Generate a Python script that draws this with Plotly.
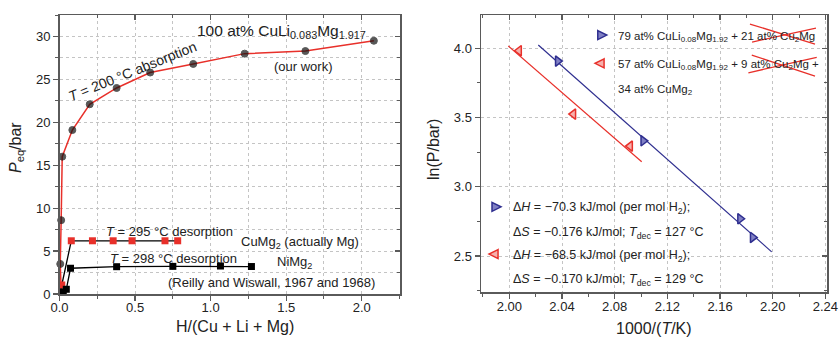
import plotly.graph_objects as go

# ---------------- data: left panel ----------------
H_abs = [0.012, 0.005, 0.011, 0.018, 0.085, 0.20, 0.378, 0.60, 0.885, 1.225, 1.627, 2.08]
P_abs = [0.0, 3.5, 8.6, 16.0, 19.1, 22.1, 24.0, 25.8, 26.8, 28.0, 28.3, 29.5]
abs_marker = [0, 7, 7, 7, 7, 7, 7, 7, 7, 7, 7, 7]

H_cumg2 = [0.015, 0.078, 0.218, 0.355, 0.48, 0.698, 0.782]
P_cumg2 = [1.05, 6.2, 6.2, 6.2, 6.2, 6.2, 6.2]

H_nimg2 = [0.025, 0.045, 0.073, 0.378, 0.75, 1.065, 1.27]
P_nimg2 = [0.25, 0.55, 3.0, 3.18, 3.22, 3.26, 3.2]

# ---------------- data: right panel ----------------
invT_79 = [2.0368, 2.1017, 2.1752, 2.1848]
lnP_79 = [3.908, 3.332, 2.769, 2.634]
fit79_x = [2.022, 2.1992]
fit79_y = [4.024, 2.530]

invT_57 = [2.0074, 2.0486, 2.0917]
lnP_57 = [3.983, 3.525, 3.294]
fit57_x = [1.9992, 2.1005]
fit57_y = [4.017, 3.181]

left_xticks = [0.0, 0.5, 1.0, 1.5, 2.0]
left_yticks = [0, 5, 10, 15, 20, 25, 30]
right_xticks = [2.00, 2.04, 2.08, 2.12, 2.16, 2.20, 2.24]
right_yticks = [2.5, 3.0, 3.5, 4.0]

RED = "#e8302a"
BLUE = "#2e2e8f"
FONT = "Liberation Sans, Arial, Helvetica, sans-serif"
AX = "#5a5a5a"
GRID = "#c4c4c4"

fig = go.Figure()

# left panel traces
fig.add_trace(go.Scatter(x=H_abs, y=P_abs, mode="lines",
                         line=dict(color=RED, width=1.5),
                         cliponaxis=False, showlegend=False, xaxis="x", yaxis="y"))
fig.add_trace(go.Scatter(x=H_abs, y=P_abs, mode="markers",
                         marker=dict(color="#111111", size=abs_marker, symbol="circle",
                                     line=dict(color="#111111", width=1)),
                         cliponaxis=False, showlegend=False, xaxis="x", yaxis="y"))
fig.add_trace(go.Scatter(x=H_cumg2, y=P_cumg2, mode="lines+markers",
                         line=dict(color="black", width=1.3),
                         marker=dict(color=RED, size=7, symbol="square", line=dict(width=0)),
                         cliponaxis=False, showlegend=False, xaxis="x", yaxis="y"))
fig.add_trace(go.Scatter(x=H_nimg2, y=P_nimg2, mode="lines+markers",
                         line=dict(color="black", width=1.3),
                         marker=dict(color="black", size=7, symbol="square", line=dict(width=0)),
                         cliponaxis=False, showlegend=False, xaxis="x", yaxis="y"))

# right panel traces
fig.add_trace(go.Scatter(x=fit79_x, y=fit79_y, mode="lines",
                         line=dict(color=BLUE, width=1.2),
                         showlegend=False, xaxis="x2", yaxis="y2"))
fig.add_trace(go.Scatter(x=fit57_x, y=fit57_y, mode="lines",
                         line=dict(color=RED, width=1.2),
                         showlegend=False, xaxis="x2", yaxis="y2"))
fig.add_trace(go.Scatter(x=invT_79, y=lnP_79, mode="markers",
                         marker=dict(symbol="triangle-right", size=9, color="#8080c4",
                                     line=dict(color=BLUE, width=1.5)),
                         showlegend=False, xaxis="x2", yaxis="y2"))
fig.add_trace(go.Scatter(x=invT_57, y=lnP_57, mode="markers",
                         marker=dict(symbol="triangle-left", size=9, color="#f6b0ac",
                                     line=dict(color=RED, width=1.5)),
                         showlegend=False, xaxis="x2", yaxis="y2"))

# dummy traces to activate mirror (inward-tick) axes
fig.add_trace(go.Scatter(x=[None], y=[None], xaxis="x3", yaxis="y3", showlegend=False, hoverinfo="skip"))
fig.add_trace(go.Scatter(x=[None], y=[None], xaxis="x4", yaxis="y4", showlegend=False, hoverinfo="skip"))

L_DOM_X = [59.5 / 839, 400 / 839]
L_DOM_Y = [(337 - 294) / 337, (337 - 15) / 337]
R_DOM_X = [481 / 839, 827 / 839]
R_DOM_Y = [(337 - 292) / 337, (337 - 15) / 337]
L_XR = [0, 2.253]
L_YR = [0, 32.5]
R_XR = [1.9785, 2.2412]
R_YR = [2.24, 4.241]

tickfont = dict(family=FONT, size=13, color="#222")


def main_axis(domain, rng, tickvals, minor_dtick, minor_grid, grid, fmt, anchor, standoff):
    return dict(domain=domain, range=rng, anchor=anchor, tickmode="array", tickvals=tickvals,
                ticktext=[fmt.format(v) for v in tickvals], automargin=False,
                ticks="outside", ticklen=5, tickwidth=1.2, tickcolor=AX,
                ticklabelstandoff=standoff,
                showline=True, linecolor=AX, linewidth=1.5, zeroline=False,
                showgrid=grid, gridcolor=GRID, griddash="dot", gridwidth=1,
                tickfont=tickfont,
                minor=dict(dtick=minor_dtick, tick0=0 if minor_dtick != 0.02 else 2.0,
                           ticks="outside", ticklen=3, tickwidth=1, tickcolor=AX,
                           showgrid=minor_grid, gridcolor=GRID, griddash="dot", gridwidth=1))


def mirror_axis(rng, overlay, side, anchor, tickvals, minor_dtick, tick0):
    return dict(range=rng, overlaying=overlay, side=side, anchor=anchor, automargin=False,
                tickmode="array", tickvals=tickvals, showticklabels=False,
                ticks="inside", ticklen=5, tickwidth=1.2, tickcolor=AX,
                showline=True, linecolor=AX, linewidth=1.5, zeroline=False, showgrid=False,
                minor=dict(dtick=minor_dtick, tick0=tick0, ticks="inside", ticklen=3,
                           tickwidth=1, tickcolor=AX, showgrid=False))


fig.update_layout(
    template="none",
    width=839, height=337, margin=dict(l=0, r=0, t=0, b=0, autoexpand=False),
    paper_bgcolor="white", plot_bgcolor="white",
    font=dict(family=FONT, size=13, color="#222"),
    xaxis=main_axis(L_DOM_X, L_XR, left_xticks, 0.25, True, True, "{:.1f}", "y", -4),
    yaxis=main_axis(L_DOM_Y, L_YR, left_yticks, 2.5, True, True, "{:.0f}", "x", 0),
    xaxis2=main_axis(R_DOM_X, R_XR, right_xticks, 0.02, False, True, "{:.2f}", "y2", -3),
    yaxis2=main_axis(R_DOM_Y, R_YR, right_yticks, 0.25, False, True, "{:.1f}", "x2", 0),
    xaxis3=mirror_axis(L_XR, "x", "top", "y", left_xticks, 0.25, 0),
    yaxis3=mirror_axis(L_YR, "y", "right", "x", left_yticks, 2.5, 0),
    xaxis4=mirror_axis(R_XR, "x2", "top", "y2", right_xticks, 0.02, 2.0),
    yaxis4=mirror_axis(R_YR, "y2", "right", "x2", right_yticks, 0.25, 0),
)

ann = []


def A(text, x, y, xref, yref, size=13, xanchor="center", yanchor="middle", angle=0, color="#222"):
    ann.append(dict(text=text, x=x, y=y, xref=xref, yref=yref, showarrow=False,
                    xanchor=xanchor, yanchor=yanchor, textangle=angle, borderpad=0,
                    font=dict(family=FONT, size=size, color=color)))


# axis titles
A("<i>P</i><sub>eq</sub>/bar", 17 / 839, (337 - 148) / 337, "paper", "paper", size=16, angle=-90)
A("H/(Cu + Li + Mg)", 235 / 839, (337 - 326.5) / 337, "paper", "paper", size=16)
A("ln(P/bar)", 433 / 839, (337 - 150) / 337, "paper", "paper", size=16, angle=-90)
A("1000/(<i>T</i>/K)", 654 / 839, (337 - 328) / 337, "paper", "paper", size=16)

# left panel labels
A("100 at% CuLi<sub>0.083</sub>Mg<sub>1.917</sub>", 0.905, 30.55, "x", "y", size=15.5, xanchor="left")
A("(our work)", 1.613, 26.47, "x", "y", size=13)
A("<i>T</i> = 200 °C absorption", 0.486, 26.0, "x", "y", size=14, angle=-22)
A("<i>T</i> = 295 °C desorption", 0.731, 7.26, "x", "y", size=13)
A("CuMg<sub>2</sub> (actually Mg)", 1.1946, 6.0, "x", "y", size=13, xanchor="left")
A("<i>T</i> = 298 °C desorption", 0.756, 4.16, "x", "y", size=13)
A("NiMg<sub>2</sub>", 1.4328, 3.7, "x", "y", size=13, xanchor="left")
A("(Reilly and Wiswall, 1967 and 1968)", 1.40, 1.32, "x", "y", size=13)

# right panel legend texts
A("79 at% CuLi<sub>0.08</sub>Mg<sub>1.92</sub> + 21 at% Cu<sub>2</sub>Mg", 2.0815, 4.082, "x2", "y2", size=11.5, xanchor="left")
A("57 at% CuLi<sub>0.08</sub>Mg<sub>1.92</sub> + 9 at% Cu<sub>2</sub>Mg +", 2.0815, 3.879, "x2", "y2", size=11.5, xanchor="left")
A("34 at% CuMg<sub>2</sub>", 2.0815, 3.699, "x2", "y2", size=11.5, xanchor="left")

A("Δ<i>H</i> = −70.3 kJ/mol (per mol H<sub>2</sub>);", 2.0018, 2.846, "x2", "y2", size=12.5, xanchor="left")
A("Δ<i>S</i> = −0.176 kJ/mol; <i>T</i><sub>dec</sub> = 127 °C", 2.0018, 2.665, "x2", "y2", size=12.5, xanchor="left")
A("Δ<i>H</i> = −68.5 kJ/mol (per mol H<sub>2</sub>);", 2.0018, 2.499, "x2", "y2", size=12.5, xanchor="left")
A("Δ<i>S</i> = −0.170 kJ/mol; <i>T</i><sub>dec</sub> = 129 °C", 2.0018, 2.326, "x2", "y2", size=12.5, xanchor="left")

fig.update_layout(annotations=ann)

shapes = []
# strike-through crosses
for (x0, y0, x1, y1) in [(2.1827, 4.1756, 2.2321, 4.031), (2.1843, 4.0455, 2.2328, 4.1467),
                         (2.1841, 3.9516, 2.2321, 3.7999), (2.1815, 3.8237, 2.2334, 3.935)]:
    shapes.append(dict(type="line", x0=x0, y0=y0, x1=x1, y1=y1, xref="x2", yref="y2",
                       line=dict(color=RED, width=1.3)))

# legend key symbols
RIGHT_TRI = "M -4,4.5 L 5,0 L -4,-4.5 Z"
LEFT_TRI = "M 4,4.5 L -5,0 L 4,-4.5 Z"
for (x, y, path, fill, edge) in [(2.0702, 4.096, RIGHT_TRI, "#8080c4", BLUE),
                                 (2.0689, 3.892, LEFT_TRI, "#f6b0ac", RED),
                                 (1.9899, 2.855, RIGHT_TRI, "#8080c4", BLUE),
                                 (1.9884, 2.514, LEFT_TRI, "#f6b0ac", RED)]:
    shapes.append(dict(type="path", xref="x2", yref="y2", xsizemode="pixel", ysizemode="pixel",
                       xanchor=x, yanchor=y, path=path, fillcolor=fill,
                       line=dict(color=edge, width=1.5)))

fig.update_layout(shapes=shapes)

fig.write_html("out.html", config={"displayModeBar": False, "staticPlot": True},
               post_script="document.body.style.margin='0px';document.body.style.padding='0px';document.body.style.overflow='hidden';")
